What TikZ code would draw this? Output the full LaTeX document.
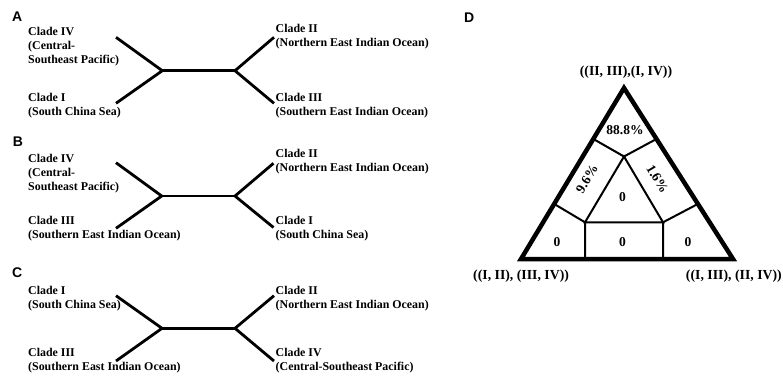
\documentclass[tikz,border=0pt]{standalone}
\usepackage{fontspec}
\setmainfont{Liberation Serif}
\newfontfamily\panelfont{Liberation Sans}
\usetikzlibrary{calc}
\begin{document}
\begin{tikzpicture}[x=1pt,y=-1pt,
  branch/.style={line width=2.8pt},
  % multi-line labels are anchored at the baseline of their last line
  clade/.style={anchor=base west, align=left, inner sep=0pt,
    font=\fontsize{11.9}{14}\selectfont\bfseries},
  panel/.style={anchor=base west, inner sep=0pt,
    font=\panelfont\fontsize{14}{16}\selectfont\bfseries},
  frame/.style={line width=4.5pt, line join=miter},
  cell/.style={line width=2pt},
  cellnum/.style={inner sep=0pt, font=\fontsize{13.5}{15}\selectfont\bfseries},
  topology/.style={inner sep=0pt, font=\fontsize{13.8}{15}\selectfont\bfseries}
]
\useasboundingbox (0,0) rectangle (783,376);

% ---------- panel letters ----------
\node[panel] (lA) at (12,21.7) {A};
\node[panel] (lB) at (12.7,146.7) {B};
\node[panel] (lC) at (12,277.8) {C};
\node[panel] (lD) at (464,22.7) {D};

% ---------- tree A ----------
\coordinate (a1) at (116,37.3);
\coordinate (a2) at (116,103.3);
\coordinate (aL) at (162.3,70.7);
\coordinate (aR) at (235,70.7);
\coordinate (a3) at (274,37.3);
\coordinate (a4) at (274,103.3);
\draw[branch] (a1) -- (aL) -- (a2);
\draw[branch] (aL) -- (aR);
\draw[branch] (a3) -- (aR) -- (a4);
\node[clade] (aIV) at (28,63) {Clade IV\\(Central-\\Southeast Pacific)};
\node[clade] (aI) at (28,115.7) {Clade I\\(South China Sea)};
\node[clade] (aII) at (275.5,46) {Clade II\\(Northern East Indian Ocean)};
\node[clade] (aIII) at (275.5,115.7) {Clade III\\(Southern East Indian Ocean)};

% ---------- tree B ----------
\coordinate (b1) at (116,162.7);
\coordinate (b2) at (116,228.3);
\coordinate (bL) at (161.7,196);
\coordinate (bR) at (235,196);
\coordinate (b3) at (273.5,163.3);
\coordinate (b4) at (273.5,227.5);
\draw[branch] (b1) -- (bL) -- (b2);
\draw[branch] (bL) -- (bR);
\draw[branch] (b3) -- (bR) -- (b4);
\node[clade] (bIV) at (28,190.3) {Clade IV\\(Central-\\Southeast Pacific)};
\node[clade] (bIII) at (28,238.3) {Clade III\\(Southern East Indian Ocean)};
\node[clade] (bII) at (275.5,171.7) {Clade II\\(Northern East Indian Ocean)};
\node[clade] (bI) at (275.5,238.3) {Clade I\\(South China Sea)};

% ---------- tree C ----------
\coordinate (c1) at (116,295.7);
\coordinate (c2) at (116,361);
\coordinate (cL) at (162,328.3);
\coordinate (cR) at (235,328.3);
\coordinate (c3) at (274,295.7);
\coordinate (c4) at (274,361);
\draw[branch] (c1) -- (cL) -- (c2);
\draw[branch] (cL) -- (cR);
\draw[branch] (c3) -- (cR) -- (c4);
\node[clade] (cI) at (28,308) {Clade I\\(South China Sea)};
\node[clade] (cIII) at (28,370.7) {Clade III\\(Southern East Indian Ocean)};
\node[clade] (cII) at (275.5,308) {Clade II\\(Northern East Indian Ocean)};
\node[clade] (cIV) at (275.5,370.7) {Clade IV\\(Central-Southeast Pacific)};

% ---------- likelihood-mapping triangle ----------
\coordinate (T) at (624,88);
\coordinate (L) at (521,259);
\coordinate (R) at (733,259);
\coordinate (iT) at (624,156.5);
\coordinate (iL) at (585,222.3);
\coordinate (iR) at (663,222.3);
\coordinate (eL1) at ($(L)!0.702!(T)$);
\coordinate (eL2) at ($(L)!0.322!(T)$);
\coordinate (eR1) at ($(R)!0.702!(T)$);
\coordinate (eR2) at ($(R)!0.322!(T)$);
\coordinate (fL) at ($(L)!(iL)!(R)$);
\coordinate (fR) at ($(L)!(iR)!(R)$);
\draw[cell] (iT) -- (iL) -- (iR) -- cycle;
\draw[cell] (eL1) -- (iT) -- (eR1);
\draw[cell] (eL2) -- (iL) -- (fL);
\draw[cell] (eR2) -- (iR) -- (fR);
\draw[frame] (T) -- (L) -- (R) -- cycle;

\node[cellnum] (p1) at (625,130) {88.8\%};
\node[cellnum, rotate=59] (p2) at (587,179) {9.6\%};
\node[cellnum, rotate=-59] (p3) at (657.5,179) {1.6\%};
\node[cellnum] (p4) at (622.5,197) {0};
\node[cellnum] (p5) at (557,242.3) {0};
\node[cellnum] (p6) at (622.5,242.3) {0};
\node[cellnum] (p7) at (688,242.3) {0};

\node[topology, anchor=base] (tTop) at (626,75) {((II, III),(I, IV))};
\node[topology, anchor=base west] (tLeft) at (473,279) {((I, II), (III, IV))};
\node[topology, anchor=base east] (tRight) at (782,279) {((I, III), (II, IV))};
\end{tikzpicture}
\end{document}
